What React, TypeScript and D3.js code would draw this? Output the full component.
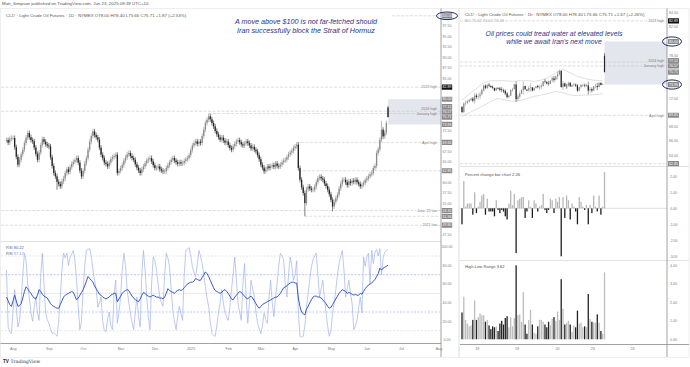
import React from 'react';
import * as d3 from 'd3';

const FONT = "'Liberation Sans', Arial, sans-serif";

// ---- CL1! daily closes, one array per month
const closesJul = [70.2, 69.6, 70.5];
const closesAug = [70.7, 70.7, 68.5, 66.2, 64.3, 65.5, 66.8, 67.9, 69.5, 70.8, 71.9, 70.9, 70.2, 69.9, 68.4, 66.9, 65.5, 67.2, 69.0, 70.4, 69.8, 69.2];
const closesSep = [68.9, 68.7, 66.1, 64.0, 62.3, 61.5, 60.2, 59.7, 59.1, 60.3, 61.0, 62.3, 63.2, 62.6, 63.7, 64.5, 65.0, 65.4, 65.9, 64.8, 62.9];
const closesOct = [61.5, 62.8, 64.6, 65.9, 67.9, 69.8, 71.2, 72.3, 71.4, 70.9, 70.3, 68.4, 66.7, 65.9, 64.8, 64.5, 63.9, 64.8, 65.7, 66.1, 66.4, 66.7, 62.3];
const closesNov = [62.8, 63.5, 64.2, 65.3, 66.0, 66.8, 67.1, 66.4, 65.9, 65.5, 64.4, 63.6, 62.9, 62.3, 63.2, 63.9, 64.6, 65.3, 65.6, 65.9, 65.1];
const closesDec = [64.2, 63.5, 63.5, 63.9, 63.2, 62.9, 62.7, 62.7, 63.5, 64.2, 64.9, 65.5, 65.9, 65.3, 64.9, 64.5, 64.9, 64.6, 64.7, 65.2, 65.6, 65.9];
const closesJan = [66.6, 67.8, 68.9, 69.5, 69.9, 69.3, 69.8, 69.5, 71.2, 72.7, 74.3, 75.1, 75.9, 75.2, 74.3, 73.5, 72.4, 71.6, 70.9, 70.3, 70.8, 70.1, 69.6];
const closesFeb = [69.9, 69.0, 68.3, 67.9, 68.7, 69.3, 69.9, 70.2, 69.7, 69.2, 68.9, 69.4, 69.9, 69.5, 68.9, 68.2, 68.6, 67.9, 67.5, 66.6];
const closesMar = [65.6, 64.3, 63.6, 62.7, 63.2, 63.9, 63.5, 63.9, 64.2, 63.8, 64.6, 64.0, 63.9, 64.3, 64.9, 65.3, 65.5, 66.1, 66.8, 67.2, 67.6];
const closesApr = [68.3, 68.7, 69.1, 63.5, 60.7, 58.9, 57.5, 55.1, 58.4, 59.1, 58.6, 58.3, 58.3, 59.0, 60.1, 61.1, 61.4, 61.0, 60.7, 59.8, 59.2, 58.3];
const closesMay = [57.2, 55.9, 54.3, 55.4, 56.3, 57.1, 58.6, 59.7, 60.7, 60.7, 60.1, 59.4, 60.3, 59.9, 60.5, 60.2, 60.7, 60.1, 59.7, 59.1, 59.5, 59.9];
const closesJun = [60.6, 61.0, 61.5, 62.0, 62.3, 63.5, 64.0, 67.1, 68.0, 70.3, 72.7, 71.1, 72.0, 74.3, 75.71];

const dailyMonths = [
  { label: '', closes: closesJul },
  { label: 'Aug', closes: closesAug },
  { label: 'Sep', closes: closesSep },
  { label: 'Oct', closes: closesOct },
  { label: 'Nov', closes: closesNov },
  { label: 'Dec', closes: closesDec },
  { label: '2025', closes: closesJan },
  { label: 'Feb', closes: closesFeb },
  { label: 'Mar', closes: closesMar },
  { label: 'Apr', closes: closesApr },
  { label: 'May', closes: closesMay },
  { label: 'Jun', closes: closesJun },
];
// months still to come on the time axis: [label, trading days before it starts]
const futureMonths: [string, number][] = [['Jul', 6], ['Aug', 23]];

// wicks that stand out on the chart: [bar index, price]
const wickHighs: [number, number][] = [[124, 76.57], [178, 69.65], [230, 74.8], [234, 78.40]];
const wickLows: [number, number][] = [[31, 58.3], [183, 51.94], [200, 53.1], [234, 75.66]];
const lastOpen = 78.0;

// RSI panel (slow line and fast line), per daily bar
const rsiSlow = [
  46, 42, 38,
  36, 42, 48, 42, 36, 37, 39, 45, 52, 57, 55, 52, 50, 47, 45, 44, 48, 54, 52, 49, 47, 46,
  45, 42, 39, 37, 36, 35, 34, 34, 38, 42, 46, 48, 49, 50, 51, 52, 51, 47, 43, 45, 48,
  51, 54, 58, 63, 68, 66, 64, 62, 58, 55, 52, 49, 48, 46, 45, 44, 45, 46, 48, 49, 50, 50, 41,
  44, 47, 50, 52, 53, 54, 53, 50, 47, 45, 43, 42, 41, 44, 48, 51, 50, 48, 47, 46, 47,
  48, 47, 46, 46, 45, 45, 44, 46, 50, 55, 53, 52, 51, 50, 52, 53, 54, 53, 54, 56, 58, 60,
  61, 62, 62, 63, 66, 65, 64, 64, 67, 70, 73, 71, 68, 64, 60, 56, 53, 52, 51, 50, 51, 53, 54,
  52, 50, 47, 44, 43, 46, 48, 50, 52, 51, 49, 47, 45, 44, 46, 47, 45, 42, 39, 36,
  34, 36, 38, 39, 40, 41, 42, 43, 44, 45, 46, 46, 48, 50, 53, 56, 57, 58, 60, 61, 62,
  62, 61, 61, 45, 36, 30, 28, 27, 33, 36, 40, 43, 46, 47, 47, 46, 46, 45, 43, 41, 39, 36,
  34, 35, 38, 41, 44, 47, 50, 52, 54, 53, 52, 50, 51, 50, 49, 48, 49, 48, 48, 50, 49, 52,
  55, 57, 59, 60, 61, 63, 65, 68, 71, 77, 75, 77, 78, 79, 80.22,
];
const rsiFast = [
  75, 14, 9,
  7, 30, 54, 35, 14, 20, 43, 70, 93, 85, 61, 45, 29, 20, 35, 46, 30, 21, 70, 93, 60, 29,
  22, 18, 12, 7, 8, 6, 4, 20, 46, 75, 93, 88, 93, 80, 89, 92, 96, 85, 64, 35, 11,
  20, 54, 80, 96, 97, 98, 90, 75, 64, 55, 35, 40, 46, 20, 10, 9, 22, 30, 15, 11, 50, 64, 18,
  30, 46, 75, 93, 80, 54, 40, 29, 18, 11, 30, 46, 25, 14, 70, 96, 75, 46, 25, 11, 60,
  89, 85, 75, 60, 46, 40, 36, 70, 93, 88, 79, 55, 32, 20, 11, 25, 36, 28, 21, 70, 96, 97,
  99, 90, 79, 72, 68, 80, 96, 90, 82, 70, 57, 45, 36, 20, 7, 5, 4, 15, 29, 40, 54, 40, 29,
  25, 21, 35, 54, 70, 89, 65, 39, 30, 21, 60, 82, 45, 18, 40, 64, 55, 46, 30, 18,
  12, 7, 15, 29, 22, 18, 45, 64, 40, 25, 45, 61, 80, 93, 90, 86, 60, 46, 70, 89, 80,
  64, 70, 85, 30, 4, 3, 4, 15, 36, 50, 64, 78, 86, 90, 93, 70, 46, 55, 64, 45, 29, 15,
  4, 10, 29, 40, 54, 70, 82, 90, 96, 75, 46, 55, 64, 50, 39, 11, 15, 21, 35, 46, 29, 89,
  79, 89, 93, 60, 96, 82, 94, 97, 90, 98, 70, 88, 94, 96, 97.12,
];

// horizontal levels drawn on both charts
const levelValues = [82.89, 80.0, 77.12, 76.57, 75.71, 73.96, 69.65, 62.85, 53.32, 51.94, 49.8];
const levelNames = ['2023 high', '', '2024 high', 'January high', '', '', 'April high', '', "June '23 low", '', '2021 low'];
const levelStartBar = [0, -1, 0, 124, -1, -1, 178, 179, 0, 183, 0];
const targetLevel = 100.0;
const zoneTop = 80.0;
const zoneBottom = 73.96;

const leftTicks = [97.5, 95, 92.5, 90, 87.5, 85, 72.5, 67.5, 65, 60, 57.5, 55, 47.5];
const rsiTicks = [100, 80, 60, 40, 20, 0];

// ---- 1h chart (right)
const hourCloses = [
  70.1, 71.3, 71.4, 71.6, 71.8, 72.0, 71.7, 72.4, 72.2, 72.3,
  72.6, 73.2, 73.8, 73.5, 73.9, 73.8, 73.6, 73.5, 73.1, 73.5,
  73.4, 73.2, 73.2, 73.0, 72.7, 72.2, 72.4, 73.2, 73.3, 74.0,
  71.9, 72.3, 72.7, 73.2, 73.7, 73.3, 73.1, 73.5, 73.6, 73.1,
  73.5, 73.7, 73.6, 73.6, 73.8, 74.4, 74.4, 74.1, 74.1, 74.5,
  74.9, 74.6, 75.1, 75.4, 75.9, 73.6, 74.1, 73.7, 74.0, 74.2,
  73.7, 73.9, 74.0, 73.8, 73.1, 73.6, 73.9, 73.9, 73.8, 73.9,
  73.1, 73.3, 73.1, 73.7, 73.8, 73.6, 74.2, 73.9, 74.04, 75.71,
];
const hourPct = [
  -1.0, 1.7, 0.1, 0.3, 0.3, 0.3, -0.4, 1.0, -0.3, 0.1,
  0.4, 0.8, 0.9, -0.4, 0.6, -0.2, -0.2, -0.2, -0.5, 0.5,
  -0.1, -0.3, -0.1, -0.2, -0.5, -0.7, 0.3, 1.1, 0.2, 0.9,
  -2.8, 0.5, 0.6, 0.7, 0.7, -0.6, -0.2, 0.5, 0.1, -0.6,
  0.5, 0.3, -0.2, 0.1, 0.2, 0.9, -0.1, -0.3, -0.1, 0.6,
  0.5, -0.3, 0.6, 0.4, 0.7, -3.0, 0.7, -0.6, 0.8, 0.5,
  -0.7, 0.3, 0.1, -0.2, -1.0, 0.7, 0.4, 0.1, -0.1, 0.2,
  -1.0, 0.2, -0.3, 0.8, 0.1, -0.2, 0.8, -0.4, 0.1, 2.26,
];
const hourRange = [
  1.45, 2.3, 1.05, 0.85, 0.7, 0.75, 1.05, 2.1, 1.05, 1.2,
  1.4, 1.3, 1.3, 0.95, 1.05, 0.75, 0.55, 0.7, 0.65, 0.7,
  0.45, 0.85, 1.0, 0.8, 1.15, 1.25, 0.65, 1.2, 0.7, 1.15,
  4.0, 1.3, 1.35, 0.95, 2.55, 0.8, 0.3, 1.05, 1.6, 0.8,
  0.35, 0.3, 0.7, 1.05, 1.05, 0.95, 0.8, 0.65, 0.95, 0.75,
  1.1, 1.2, 1.0, 1.5, 1.05, 3.25, 1.65, 0.8, 0.9, 1.0,
  0.8, 0.4, 0.75, 0.65, 1.55, 0.85, 0.9, 0.65, 0.7, 0.65,
  2.45, 1.1, 0.95, 0.9, 0.9, 1.35, 0.9, 0.45, 0.3, 3.62,
];
const bandBars = [0, 4, 8, 12, 16, 20, 24, 28, 32, 36, 40, 44, 48, 52, 56, 60, 64, 68, 72, 76, 78];
const bandUpper = [71.8, 72.6, 73.4, 74.2, 74.5, 74.5, 74.5, 74.4, 74.5, 74.5, 74.4, 74.6, 75.0, 75.6, 76.1, 75.6, 75.1, 74.8, 74.6, 74.5, 74.5];
const bandLower = [69.5, 70.0, 70.5, 71.0, 71.6, 72.0, 71.8, 71.6, 71.7, 72.0, 72.3, 72.5, 72.7, 73.0, 72.8, 72.5, 72.4, 72.5, 72.5, 72.6, 72.7];
const dayLabels = ['18', '19', '20', '23', '24'];
const dayBars = [8.5, 30.5, 53, 72.5, 94.5];
const rightTicks = [84, 82, 78, 72, 68, 66, 64];
const pctTicks = [2, 1, 0, -1, -2, -3];
const rangeTicks = [4, 3, 2, 1, 0];

const UP = '#8a8a8a';
const DOWN = '#242424';
const BOX = '#8a8a8a';
const ZONE = '#e4e6ed';
const NAVY = '#26348a';
const AXIS_TXT = '#7a7a7a';

// push overlapping labels upward so they keep a minimum gap
function stackUp<T extends { y: number }>(items: T[], gap: number): T[] {
  const s = [...items].sort((a, b) => a.y - b.y);
  for (let i = s.length - 2; i >= 0; i--) {
    if (s[i].y > s[i + 1].y - gap) s[i].y = s[i + 1].y - gap;
  }
  return s;
}

const PriceBox = ({ x, y, w, text, fill }: { x: number; y: number; w: number; text: string; fill: string }) => (
  <g>
    <rect x={x} y={y - 2.6} width={w} height={5.2} fill={fill} rx={0.5} />
    <text x={x + w / 2} y={y} dy="0.35em" fontSize={3.5} fill="#fff" textAnchor="middle">{text}</text>
  </g>
);

export default function App() {
  const dailyCloses = dailyMonths.flatMap(m => m.closes);
  const lastIdx = dailyCloses.length - 1;

  const monthTicks: { label: string; i: number }[] = [];
  let n = 0;
  dailyMonths.forEach(m => {
    if (m.label) monthTicks.push({ label: m.label, i: n });
    n += m.closes.length;
  });
  futureMonths.forEach(([label, gap]) => {
    n += gap;
    monthTicks.push({ label, i: n });
  });

  // ---- left chart scales
  const x = d3.scaleLinear().domain([0, lastIdx]).range([6.5, 388]);
  const y = d3.scaleLinear().domain([100, 47.5]).range([15.8, 234.8]);
  const yRsi = d3.scaleLinear().domain([0, 100]).range([340, 246.7]);

  const hiMap = new Map(wickHighs);
  const loMap = new Map(wickLows);
  const candles = dailyCloses.map((c, i) => {
    const o = i === lastIdx ? lastOpen : i === 0 ? c : dailyCloses[i - 1];
    const hi = hiMap.get(i) ?? Math.max(o, c) + 0.6;
    const lo = loMap.get(i) ?? Math.min(o, c) - 0.6;
    return { i, o, c, hi, lo };
  });

  const rsiLine = d3.line<number>().x((_, i) => x(i)).y(d => yRsi(d));

  const leftBoxes = stackUp(
    levelValues.map((v, k) => ({ v, k, y: y(v) })),
    5.3
  );
  const leftNames = stackUp(
    levelValues.map((v, k) => ({ v, k, y: y(v) })).filter(d => levelNames[d.k]),
    4.5
  );

  // ---- right chart scales
  const rx = d3.scaleLinear().domain([0, hourCloses.length - 1]).range([462, 604.5]);
  const ry = d3.scaleLinear().domain([84, 64]).range([13, 155.5]);
  const yPct = d3.scaleLinear().domain([-3, 2]).range([256.3, 176.3]);
  const yRange = d3.scaleLinear().domain([0, 4]).range([339.3, 265.3]);

  const hourly = hourCloses.map((c, i) => {
    const last = i === hourCloses.length - 1;
    const o = last ? lastOpen : c / (1 + hourPct[i] / 100);
    const span = (hourRange[i] / 100) * Math.min(o, c);
    const pad = Math.max(0.05, (span - Math.abs(c - o)) / 2);
    const hi = last ? 78.4 : Math.max(o, c) + pad;
    const lo = last ? 75.66 : Math.min(o, c) - pad;
    return { i, o, c, hi, lo };
  });

  const bandLine = d3.line<number>().x((_, k) => rx(bandBars[k])).y(d => ry(d));

  const rightLevels = [0, 1, 2, 3, 4, 5, 6, 7];
  const rightBoxes = stackUp(
    rightLevels.map(k => ({ v: levelValues[k], k, y: ry(levelValues[k]) })),
    5.3
  );
  const rightNames = stackUp(
    rightLevels.filter(k => levelNames[k]).map(k => ({ k, y: ry(levelValues[k]) })),
    4.8
  );

  const header = (tf: string, chg: string) =>
    `CL1! · Light Crude Oil Futures · ${tf} · NYMEX   O${lastOpen.toFixed(2)} H78.40 L75.66 C${dailyCloses[lastIdx].toFixed(2)} ${chg}`;

  return (
    <svg width={690} height={367} style={{ position: 'absolute', left: 0, top: 0, background: '#fff' }} fontFamily={FONT}>
      <rect width={690} height={367} fill="#fff" />
      <text x={2} y={5} fontSize={4.4} fill="#555">Matt_Simpson published on TradingView.com, Jun 23, 2025 08:39 UTC+10</text>

      {/* ================= LEFT: daily chart ================= */}
      <rect x={0.5} y={8.5} width={458} height={349} fill="none" stroke="#e3e3e3" strokeWidth={0.6} />
      <text x={6} y={16.5} fontSize={4.4} fill="#555">{header('1D', '+1.87 (+2.53%)')}</text>

      {/* target zone */}
      <rect x={x(lastIdx)} y={y(zoneTop)} width={441 - x(lastIdx)} height={y(zoneBottom) - y(zoneTop)} fill={ZONE} />

      {/* level lines */}
      <line x1={392} x2={441} y1={y(targetLevel)} y2={y(targetLevel)} stroke="#c4c4c4" strokeWidth={0.6} strokeDasharray="3 1.5" />
      {levelValues.map((v, k) =>
        levelStartBar[k] >= 0 ? (
          <line key={`ll${k}`} x1={levelStartBar[k] === 0 ? 1 : x(levelStartBar[k])} x2={441} y1={y(v)} y2={y(v)}
            stroke="#c8c8c8" strokeWidth={0.6} strokeDasharray="3 1.5" />
        ) : null
      )}
      {leftNames.map(d => (
        <text key={`ln${d.k}`} x={437} y={d.y} dy="0.35em" fontSize={3.6} fill="#777" textAnchor="end"
          stroke={d.v <= zoneTop && d.v >= zoneBottom ? ZONE : '#fff'} strokeWidth={1.6} paintOrder="stroke">
          {levelNames[d.k]}
        </text>
      ))}

      {/* candles */}
      {candles.map(d => {
        const col = d.c >= d.o ? UP : DOWN;
        const yT = y(Math.max(d.o, d.c));
        const yB = y(Math.min(d.o, d.c));
        return (
          <g key={`c${d.i}`}>
            <line x1={x(d.i)} x2={x(d.i)} y1={y(d.hi)} y2={y(d.lo)} stroke={col} strokeWidth={0.6} />
            <rect x={x(d.i) - 0.65} y={yT} width={1.3} height={Math.max(0.6, yB - yT)} fill={col} />
          </g>
        );
      })}

      {/* annotation */}
      <text x={306} y={24} fontSize={7.2} fontStyle="italic" fill={NAVY} textAnchor="middle">A move above $100 is not far-fetched should</text>
      <text x={306} y={32.5} fontSize={7.2} fontStyle="italic" fill={NAVY} textAnchor="middle">Iran successfully block the Strait of Hormuz</text>

      {/* RSI pane */}
      <line x1={0.5} x2={441} y1={241.5} y2={241.5} stroke="#d6d6d6" strokeWidth={0.7} />
      {[90, 10].map(v => <line key={`g${v}`} x1={1} x2={441} y1={yRsi(v)} y2={yRsi(v)} stroke="#cfcfcf" strokeWidth={0.5} strokeDasharray="2 1.5" />)}
      <line x1={1} x2={441} y1={yRsi(50)} y2={yRsi(50)} stroke="#d4d4d4" strokeWidth={0.5} />
      {[70, 30].map(v => <line key={`b${v}`} x1={1} x2={441} y1={yRsi(v)} y2={yRsi(v)} stroke="#8ea3ea" strokeWidth={0.6} strokeDasharray="2 1.5" />)}
      <path d={rsiLine(rsiFast) ?? ''} fill="none" stroke="#9fb2ec" strokeWidth={0.7} />
      <path d={rsiLine(rsiSlow) ?? ''} fill="none" stroke="#3556d6" strokeWidth={1} />
      <text x={6} y={248.5} fontSize={4} fill="#666">RSI <tspan fill="#3a5ad6">{rsiSlow[rsiSlow.length - 1].toFixed(2)}</tspan></text>
      <text x={6} y={254.5} fontSize={4} fill="#666">RSI <tspan fill="#7f97e6">{rsiFast[rsiFast.length - 1].toFixed(2)}</tspan></text>

      {/* right axis */}
      <line x1={441} x2={441} y1={8.5} y2={357} stroke="#8a8a8a" strokeWidth={0.8} />
      {leftTicks.map(v => (
        <text key={`lt${v}`} x={447} y={y(v)} dy="0.35em" fontSize={3.5} fill={AXIS_TXT} textAnchor="middle">{v.toFixed(2)}</text>
      ))}
      <PriceBox x={441.8} y={y(targetLevel)} w={10.4} text={targetLevel.toFixed(2)} fill={BOX} />
      {leftBoxes.map(d => (
        <PriceBox key={`lb${d.k}`} x={441.8} y={d.y} w={10.4} text={d.v.toFixed(2)} fill={d.k === 0 ? '#111' : BOX} />
      ))}
      {rsiTicks.map(v => (
        <text key={`rt${v}`} x={447} y={yRsi(v)} dy="0.35em" fontSize={3.5} fill={AXIS_TXT} textAnchor="middle">{v.toFixed(2)}</text>
      ))}
      <ellipse cx={447} cy={y(targetLevel)} rx={10.5} ry={3.8} fill="none" stroke="#1c2766" strokeWidth={1} />

      {/* time axis */}
      <line x1={0.5} x2={441} y1={343.5} y2={343.5} stroke="#8a8a8a" strokeWidth={0.8} />
      {monthTicks.map(t => (
        <text key={`m${t.label}${t.i}`} x={x(t.i) + 2} y={349.5} fontSize={3.7} fill={AXIS_TXT} textAnchor="middle">{t.label}</text>
      ))}

      {/* watermark */}
      <text x={3} y={362.5} fontSize={4.6} fontWeight="bold" fill="#222">TV</text>
      <text x={10.5} y={362.5} fontSize={4.6} fill="#333" fontFamily="'DejaVu Serif', serif">TradingView</text>

      {/* ================= RIGHT: 1h chart ================= */}
      <rect x={459.5} y={8.5} width={229.5} height={349} fill="none" stroke="#e3e3e3" strokeWidth={0.6} />
      <text x={465} y={16} fontSize={4.4} fill="#555">{header('1h', '+1.67 (+2.26%)')}</text>
      <text x={465} y={22} fontSize={4} fill="#aaa">BC  75.62  74.01  73.48</text>

      <rect x={rx(hourCloses.length - 1)} y={ry(zoneTop)} width={667 - rx(hourCloses.length - 1)} height={ry(zoneBottom) - ry(zoneTop)} fill={ZONE} />
      {rightLevels.filter(k => levelStartBar[k] >= 0).map(k => (
        <line key={`rl${k}`} x1={460} x2={667} y1={ry(levelValues[k])} y2={ry(levelValues[k])}
          stroke="#c8c8c8" strokeWidth={0.6} strokeDasharray="3 1.5" />
      ))}
      {rightNames.map(d => (
        <text key={`rn${d.k}`} x={664} y={d.y} dy="0.35em" fontSize={3.6} fill="#777" textAnchor="end"
          stroke={levelValues[d.k] <= zoneTop && levelValues[d.k] >= zoneBottom ? ZONE : '#fff'} strokeWidth={1.6} paintOrder="stroke">
          {levelNames[d.k]}
        </text>
      ))}

      <path d={bandLine(bandUpper) ?? ''} fill="none" stroke="#c9c9c9" strokeWidth={0.6} />
      <path d={bandLine(bandLower) ?? ''} fill="none" stroke="#c9c9c9" strokeWidth={0.6} />

      {hourly.map(d => {
        const col = d.c >= d.o ? UP : DOWN;
        const yT = ry(Math.max(d.o, d.c));
        const yB = ry(Math.min(d.o, d.c));
        return (
          <g key={`h${d.i}`}>
            <line x1={rx(d.i)} x2={rx(d.i)} y1={ry(d.hi)} y2={ry(d.lo)} stroke={col} strokeWidth={0.5} />
            <rect x={rx(d.i) - 0.6} y={yT} width={1.2} height={Math.max(0.6, yB - yT)} fill={col} />
          </g>
        );
      })}

      <text x={554} y={35.5} fontSize={6.8} fontStyle="italic" fill={NAVY} textAnchor="middle">Oil prices could tread water at elevated levels</text>
      <text x={554} y={44} fontSize={6.8} fontStyle="italic" fill={NAVY} textAnchor="middle">while we await Iran's next move</text>

      {/* percent change pane */}
      <line x1={460} x2={689} y1={166.5} y2={166.5} stroke="#d6d6d6" strokeWidth={0.7} />
      <line x1={460} x2={667} y1={yPct(0)} y2={yPct(0)} stroke="#bdbdbd" strokeWidth={0.5} />
      {hourPct.map((v, i) => (
        <rect key={`p${i}`} x={rx(i) - 0.65} width={1.3} y={Math.min(yPct(v), yPct(0))} height={Math.abs(yPct(v) - yPct(0))}
          fill={v >= 0 ? '#b7b7b7' : '#1e1e1e'} />
      ))}
      <text x={465} y={176} fontSize={4.1} fill="#555">Percent change bar chart  <tspan fill="#444">{hourPct[hourPct.length - 1].toFixed(2)}</tspan></text>

      {/* high-low range pane */}
      <line x1={460} x2={689} y1={260.5} y2={260.5} stroke="#d6d6d6" strokeWidth={0.7} />
      {hourRange.map((v, i) => (
        <rect key={`r${i}`} x={rx(i) - 0.65} width={1.3} y={yRange(v)} height={yRange(0) - yRange(v)}
          fill={hourPct[i] >= 0 ? '#bdbdbd' : '#222'} />
      ))}
      <text x={465} y={267.5} fontSize={4.1} fill="#555">High-Low Range  <tspan fill="#444">{hourRange[hourRange.length - 1].toFixed(2)}</tspan></text>

      {/* right price axis */}
      <line x1={667} x2={667} y1={8.5} y2={357} stroke="#8a8a8a" strokeWidth={0.8} />
      {rightTicks.map(v => (
        <text key={`rk${v}`} x={673.5} y={ry(v)} dy="0.35em" fontSize={3.5} fill={AXIS_TXT} textAnchor="middle">{v.toFixed(2)}</text>
      ))}
      {rightBoxes.map(d => (
        <PriceBox key={`rb${d.k}`} x={668} y={d.y} w={11} text={d.v.toFixed(2)} fill={d.k === 0 ? '#111' : BOX} />
      ))}
      <ellipse cx={672} cy={ry(zoneTop)} rx={9.5} ry={4.6} fill="none" stroke="#1c2766" strokeWidth={1} />
      <ellipse cx={672} cy={ry(zoneBottom)} rx={9.5} ry={4.6} fill="none" stroke="#1c2766" strokeWidth={1} />
      {pctTicks.map(v => (
        <text key={`pk${v}`} x={673.5} y={yPct(v)} dy="0.35em" fontSize={3.5} fill={AXIS_TXT} textAnchor="middle">{v.toFixed(2)}</text>
      ))}
      {rangeTicks.map(v => (
        <text key={`gk${v}`} x={673.5} y={yRange(v)} dy="0.35em" fontSize={3.5} fill={AXIS_TXT} textAnchor="middle">{v.toFixed(2)}</text>
      ))}

      {/* right time axis */}
      <line x1={460} x2={689} y1={344.5} y2={344.5} stroke="#8a8a8a" strokeWidth={0.8} />
      {dayLabels.map((lbl, k) => (
        <text key={`d${lbl}`} x={rx(dayBars[k])} y={350} fontSize={3.7} fill={AXIS_TXT} textAnchor="middle">{lbl}</text>
      ))}
    </svg>
  );
}
